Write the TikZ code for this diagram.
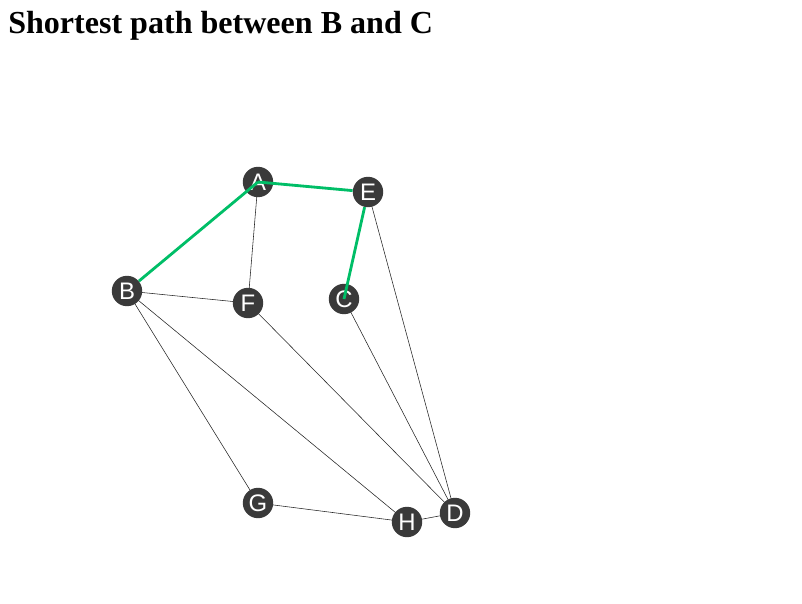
\documentclass[tikz,border=0pt]{standalone}
\usepackage{fontspec}
\setmainfont{Liberation Serif}
\newfontfamily\vertexfont{Liberation Sans}
\usetikzlibrary{backgrounds}
\definecolor{vertexgray}{HTML}{3A3A3A}
\definecolor{pathgreen}{HTML}{00BE67}

\begin{document}
\begin{tikzpicture}[
		vertex/.style={circle, fill=vertexgray, minimum size=0.76cm, inner sep=0pt,
			text=white, font=\vertexfont\fontsize{17}{17}\selectfont},
		edge/.style={line width=0.4pt, color=black!85},
		pathedge/.style={line width=2pt, color=pathgreen}
	]
		%%%%% START %%%%%
		
		\useasboundingbox (0, 0) rectangle (20.05, -15.1);
		
		\node[anchor=base west, inner sep=0pt, font=\bfseries\fontsize{22.8}{22.8}\selectfont] (title) at (0.2, -0.85) {Shortest path between B and C};
		
		\node[vertex] (A) at (6.45, -4.55) {A};
		\node[vertex] (E) at (9.2, -4.8) {E};
		\node[vertex] (B) at (3.175, -7.275) {B};
		\node[vertex] (F) at (6.2, -7.575) {F};
		\node[vertex] (C) at (8.6, -7.475) {C};
		\node[vertex] (G) at (6.45, -12.575) {G};
		\node[vertex] (H) at (10.175, -13.05) {H};
		\node[vertex] (D) at (11.375, -12.825) {D};
		
		\begin{pgfonlayer}{background}
			\draw[edge] (A.center) -- (F.center);
			\draw[edge] (B.center) -- (F.center);
			\draw[edge] (B.center) -- (G.center);
			\draw[edge] (B.center) -- (H.center);
			\draw[edge] (F.center) -- (D.center);
			\draw[edge] (C.center) -- (D.center);
			\draw[edge] (E.center) -- (D.center);
			\draw[edge] (G.center) -- (H.center);
			\draw[edge] (H.center) -- (D.center);
		\end{pgfonlayer}
		
		\draw[pathedge] (A.center) -- (B);
		\draw[pathedge] (A.center) -- (E);
		\draw[pathedge] (E) -- (C.center);
		
		%%%%% END %%%%%
	\end{tikzpicture}
\end{document}
